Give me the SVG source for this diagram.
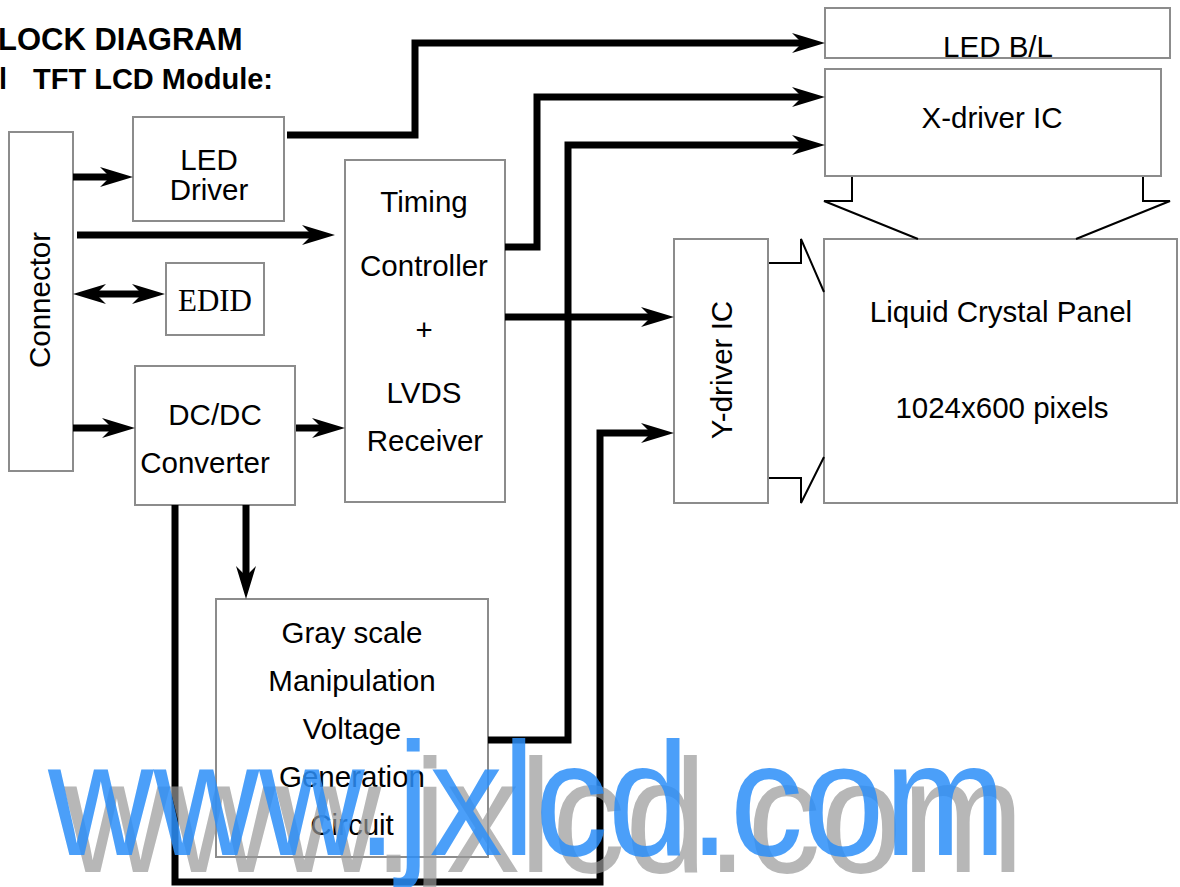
<svg xmlns="http://www.w3.org/2000/svg" width="1180" height="887" viewBox="0 0 1180 887">
<style>
.box{fill:#fff;stroke:#8c8c8c;stroke-width:2}
.t{font-family:"Liberation Sans",Arial,sans-serif;font-size:29.5px;fill:#000;text-anchor:middle}
.title{font-family:"Liberation Sans",Arial,sans-serif;font-weight:bold;fill:#000}
.w{fill:none;stroke:#000;stroke-width:7;stroke-linejoin:miter}
.hol{fill:none;stroke:#000;stroke-width:2}
</style>
<defs>
<marker id="ah" markerUnits="userSpaceOnUse" markerWidth="40" markerHeight="30" viewBox="-15 -12 40 24" refX="0" refY="0" orient="auto-start-reverse" overflow="visible">
<path d="M20,0 L-13,-10 L-3,0 L-13,10 Z" fill="#000"/>
</marker>
</defs>
<rect width="1180" height="887" fill="#fff"/>
<g id="title">
<text class="title" x="-2" y="50" font-size="31">LOCK DIAGRAM</text>
<text class="title" x="-1" y="89" font-size="29">l</text>
<text class="title" x="33" y="89" font-size="29">TFT LCD Module:</text>
</g>
<g id="connector"><rect class="box" x="9" y="132" width="64" height="339"/>
<text class="t" transform="translate(50,300) rotate(-90)">Connector</text></g>
<g id="led-driver"><rect class="box" x="133" y="117" width="151" height="104"/>
<text class="t" x="209" y="170">LED</text><text class="t" x="209" y="200">Driver</text></g>
<g id="edid"><rect class="box" x="166" y="263" width="98" height="72"/>
<text x="215" y="311" font-family="'Liberation Serif','Times New Roman',serif" font-size="31" text-anchor="middle">EDID</text></g>
<g id="dcdc"><rect class="box" x="135" y="366" width="160" height="139"/>
<text class="t" x="215" y="425">DC/DC</text><text class="t" x="205" y="473">Converter</text></g>
<g id="timing"><rect class="box" x="345" y="160" width="160" height="342"/>
<text class="t" x="424" y="212">Timing</text><text class="t" x="424" y="276">Controller</text>
<text class="t" x="424" y="340">+</text><text class="t" x="424" y="403">LVDS</text>
<text class="t" x="425" y="451">Receiver</text></g>
<g id="gray"><rect class="box" x="216" y="599" width="272" height="258"/>
<text class="t" x="352" y="643">Gray scale</text><text class="t" x="352" y="691">Manipulation</text>
<text class="t" x="352" y="739">Voltage</text><text class="t" x="352" y="787">Generation</text>
<text class="t" x="352" y="835">Circuit</text></g>
<g id="led-bl"><rect class="box" x="825" y="8" width="345" height="50"/>
<text class="t" x="998" y="57">LED B/L</text></g>
<g id="xdriver"><rect class="box" x="825" y="69" width="336" height="107"/>
<text class="t" x="992" y="128">X-driver IC</text></g>
<g id="ydriver"><rect class="box" x="674" y="239" width="94" height="264"/>
<text class="t" transform="translate(732,370) rotate(-90)">Y-driver IC</text></g>
<g id="panel"><rect class="box" x="824" y="239" width="353" height="264"/>
<text class="t" x="1001" y="322">Liquid Crystal Panel</text>
<text class="t" x="1002" y="418">1024x600 pixels</text></g>
<g id="connectors">
<path class="hol" d="M852,177 V201 H824 L918,239 M1143,177 V201 H1170 L1076,239"/>
<path class="hol" d="M769,263 H801 V239 L824,292 M769,478 H801 V503 L824,457"/>
<path class="w" d="M287,135 H415 V43 H805" marker-end="url(#ah)"/>
<path class="w" d="M505,247 H537 V97 H805" marker-end="url(#ah)"/>
<path class="w" d="M488,740 H568 V145 H805" marker-end="url(#ah)"/>
<path class="w" d="M73,177 H113" marker-end="url(#ah)"/>
<path class="w" d="M77,235 H315" marker-end="url(#ah)"/>
<path class="w" d="M93,294 H145" marker-start="url(#ah)" marker-end="url(#ah)"/>
<path class="w" d="M73,428 H115" marker-end="url(#ah)"/>
<path class="w" d="M296,428 H325" marker-end="url(#ah)"/>
<path class="w" d="M505,317 H654" marker-end="url(#ah)"/>
<path class="w" d="M246,505 V579" marker-end="url(#ah)"/>
<path class="w" d="M175,505 V882 H600 V433 H654" marker-end="url(#ah)"/>
</g>
<g id="watermark" font-family="'Liberation Sans',Arial,sans-serif" font-size="162">
<text x="64" y="872" fill="#999" fill-opacity="0.7" textLength="960" lengthAdjust="spacingAndGlyphs">www.jxlcd.com</text>
<text x="48" y="855" fill="#2b8ef8" fill-opacity="0.85" textLength="958" lengthAdjust="spacingAndGlyphs">www.jxlcd.com</text>
</g>
</svg>
